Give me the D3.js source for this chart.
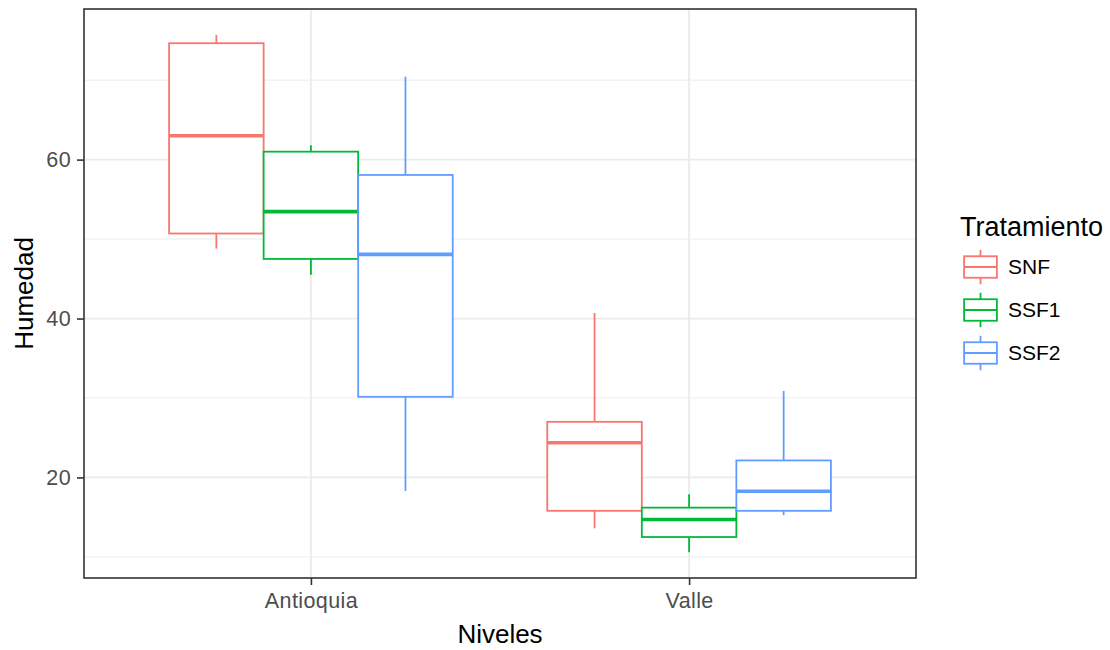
<!DOCTYPE html>
<html>
<head>
<meta charset="utf-8">
<script src="https://cdn.jsdelivr.net/npm/d3@7"></script>
<style>
  body { margin: 0; background: #fff; }
  svg { display: block; font-family: "Liberation Sans", Arial, sans-serif; }
</style>
</head>
<body>
<div id="vis"></div>
<script>
// data
const categories = ["Antioquia", "Valle"];
const treatments = ["SNF", "SSF1", "SSF2"];
const colors = ["#F8766D", "#00BA38", "#619CFF"];

// one value per box, order: Antioquia SNF, SSF1, SSF2, then Valle SNF, SSF1, SSF2
const lowerWhisker = [48.8, 45.5, 18.3, 13.6, 10.6, 15.25];
const lowerHinge   = [50.7, 47.5, 30.15, 15.8, 12.5, 15.8];
const medians      = [63.0, 53.45, 48.08, 24.36, 14.7, 18.27];
const upperHinge   = [74.65, 61.0, 58.07, 27.0, 16.2, 22.14];
const upperWhisker = [75.7, 61.8, 70.45, 40.7, 17.9, 30.9];

const yMajor = [20, 40, 60];
const yMinor = [10, 30, 50, 70];

// build box records
var boxes = [];
categories.forEach(function(c, ci) {
  treatments.forEach(function(t, ti) {
    var i = ci * treatments.length + ti;
    boxes.push({
      cat: c, trt: t, color: colors[ti],
      lo: lowerWhisker[i], q1: lowerHinge[i], med: medians[i],
      q3: upperHinge[i], hi: upperWhisker[i]
    });
  });
});

// set the dimensions and margins of the graph
var W = 1110, H = 650;
var margin = {top: 9, right: 194, bottom: 72, left: 84},
    width = W - margin.left - margin.right,
    height = H - margin.top - margin.bottom;

var svg = d3.select("#vis").append("svg")
    .attr("width", W)
    .attr("height", H);

var g = svg.append("g")
    .attr("transform", "translate(" + margin.left + "," + margin.top + ")");

// scales (ggplot style 5% expansion on y, 0.6 on discrete x)
var yMin = d3.min(boxes, d => d.lo), yMax = d3.max(boxes, d => d.hi);
var pad = (yMax - yMin) * 0.05;
var y = d3.scaleLinear()
    .domain([yMin - pad, yMax + pad])
    .range([height, 0]);

var x = d3.scalePoint()
    .domain(categories)
    .range([0, width])
    .padding(0.6);

var step = x.step();
var xInner = d3.scaleBand()
    .domain(treatments)
    .range([-0.375 * step, 0.375 * step]);

// grid
g.append("g").selectAll("line.minor")
  .data(yMinor).enter().append("line")
    .attr("x1", 0).attr("x2", width)
    .attr("y1", d => y(d)).attr("y2", d => y(d))
    .attr("stroke", "#EBEBEB").attr("stroke-width", 0.9);

g.append("g").selectAll("line.major")
  .data(yMajor).enter().append("line")
    .attr("x1", 0).attr("x2", width)
    .attr("y1", d => y(d)).attr("y2", d => y(d))
    .attr("stroke", "#EBEBEB").attr("stroke-width", 1.8);

g.append("g").selectAll("line.xgrid")
  .data(categories).enter().append("line")
    .attr("x1", d => x(d)).attr("x2", d => x(d))
    .attr("y1", 0).attr("y2", height)
    .attr("stroke", "#EBEBEB").attr("stroke-width", 1.8);

// boxes
var bx = g.append("g").selectAll("g.box")
  .data(boxes).enter().append("g")
    .attr("transform", d => "translate(" + (x(d.cat) + xInner(d.trt)) + ",0)");

var bw = xInner.bandwidth();

bx.append("line") // upper whisker
    .attr("x1", bw / 2).attr("x2", bw / 2)
    .attr("y1", d => y(d.hi)).attr("y2", d => y(d.q3))
    .attr("stroke", d => d.color).attr("stroke-width", 1.8);

bx.append("line") // lower whisker
    .attr("x1", bw / 2).attr("x2", bw / 2)
    .attr("y1", d => y(d.q1)).attr("y2", d => y(d.lo))
    .attr("stroke", d => d.color).attr("stroke-width", 1.8);

bx.append("rect")
    .attr("x", 0).attr("width", bw)
    .attr("y", d => y(d.q3))
    .attr("height", d => y(d.q1) - y(d.q3))
    .attr("fill", "#fff")
    .attr("stroke", d => d.color).attr("stroke-width", 1.8);

bx.append("line") // median
    .attr("x1", 0).attr("x2", bw)
    .attr("y1", d => y(d.med)).attr("y2", d => y(d.med))
    .attr("stroke", d => d.color).attr("stroke-width", 3.6);

// panel border
g.append("rect")
    .attr("x", 0).attr("y", 0)
    .attr("width", width).attr("height", height)
    .attr("fill", "none")
    .attr("stroke", "#333333").attr("stroke-width", 1.6);

// axes
var yAxis = g.append("g")
    .call(d3.axisLeft(y).tickValues(yMajor).tickSize(7).tickPadding(6));
var xAxis = g.append("g")
    .attr("transform", "translate(0," + height + ")")
    .call(d3.axisBottom(x).tickSize(7).tickPadding(8));

[yAxis, xAxis].forEach(function(a) {
  a.select(".domain").remove();
  a.selectAll(".tick line").attr("stroke", "#333333").attr("stroke-width", 1.6);
  a.selectAll(".tick text")
    .attr("fill", "#4D4D4D")
    .style("font-size", "21.5px")
    .style("letter-spacing", "0.4px")
    .style("font-family", "'Liberation Sans', Arial, sans-serif");
});

// axis titles
svg.append("text")
    .attr("x", margin.left + width / 2).attr("y", 643)
    .attr("text-anchor", "middle")
    .style("font-size", "26px")
    .text("Niveles");

svg.append("text")
    .attr("transform", "translate(33," + (margin.top + height / 2) + ") rotate(-90)")
    .attr("text-anchor", "middle")
    .style("font-size", "26px")
    .text("Humedad");

// legend
var legend = svg.append("g").attr("transform", "translate(960,0)");
legend.append("text")
    .attr("x", 0).attr("y", 236)
    .style("font-size", "27px")
    .text("Tratamiento");

var keyW = 41, keyH = 43, keyTop = 245.5;
var key = legend.selectAll("g.key")
  .data(treatments).enter().append("g")
    .attr("transform", (d, i) => "translate(0," + (keyTop + i * keyH) + ")");

key.append("line")
    .attr("x1", keyW / 2).attr("x2", keyW / 2)
    .attr("y1", keyH * 0.1).attr("y2", keyH * 0.9)
    .attr("stroke", (d, i) => colors[i]).attr("stroke-width", 1.8);
key.append("rect")
    .attr("x", keyW * 0.1).attr("width", keyW * 0.8)
    .attr("y", keyH * 0.25).attr("height", keyH * 0.5)
    .attr("fill", "#fff")
    .attr("stroke", (d, i) => colors[i]).attr("stroke-width", 1.8);
key.append("line")
    .attr("x1", keyW * 0.1).attr("x2", keyW * 0.9)
    .attr("y1", keyH / 2).attr("y2", keyH / 2)
    .attr("stroke", (d, i) => colors[i]).attr("stroke-width", 1.8);
key.append("text")
    .attr("x", 48).attr("y", keyH / 2).attr("dy", "0.35em")
    .style("font-size", "21px")
    .text(d => d);
</script>
</body>
</html>
